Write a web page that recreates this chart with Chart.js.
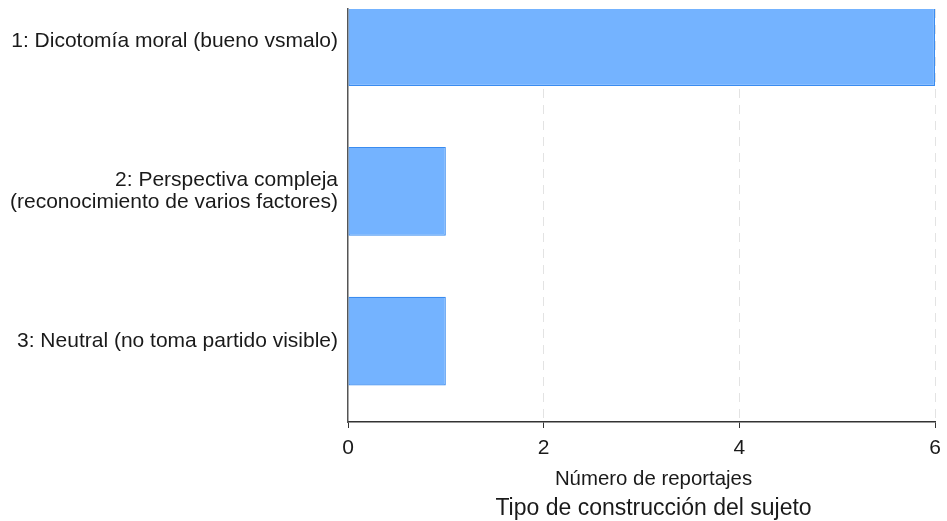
<!DOCTYPE html>
<html>
<head>
<meta charset="utf-8">
<script src="https://cdn.jsdelivr.net/npm/chart.js@4"></script>
<style>
  html, body { margin: 0; padding: 0; background: #fff; }
  #wrap { width: 947px; height: 521px; }
</style>
</head>
<body>
<div id="wrap"><canvas id="chart"></canvas></div>
<script>
// categories, top to bottom
const categories = [
    '1: Dicotomía moral (bueno vsmalo)',
    ['2: Perspectiva compleja', '(reconocimiento de varios factores)'],
    '3: Neutral (no toma partido visible)'
];
const reportCounts = [6, 1, 1];
const xTicks = [0, 2, 4, 6];
const xAxisTitle = 'Número de reportajes';
const chartTitle = 'Tipo de construcción del sujeto';

const FONT = '"Liberation Sans", Arial, sans-serif';

// draws axis title + chart title below the x axis
const bottomTitles = {
    id: 'bottomTitles',
    afterDraw(chart) {
        const ctx = chart.ctx;
        const area = chart.chartArea;
        const cx = (area.left + area.right) / 2 + 12;
        ctx.save();
        ctx.fillStyle = '#1a1a1a';
        ctx.textAlign = 'center';
        ctx.textBaseline = 'middle';
        ctx.font = '20.4px ' + FONT;
        ctx.fillText(xAxisTitle, cx, area.bottom + 57);
        ctx.font = '23px ' + FONT;
        ctx.fillText(chartTitle, cx, area.bottom + 87);
        ctx.restore();
    }
};

new Chart(document.getElementById('chart'), {
    type: 'bar',
    data: {
        datasets: [{
            data: reportCounts.map((v, i) => ({ x: v, y: i + 1 })),
            backgroundColor: '#74b3ff',
            borderColor: '#3a8cf0',
            borderWidth: 1.2,
            borderSkipped: false,
            barPercentage: 0.593,
            categoryPercentage: 1
        }]
    },
    options: {
        indexAxis: 'y',
        responsive: true,
        maintainAspectRatio: false,
        animation: false,
        layout: { padding: { top: 9, right: 12, bottom: 0, left: 0 } },
        plugins: {
            legend: { display: false },
            tooltip: { enabled: false },
            title: { display: false }
        },
        scales: {
            x: {
                type: 'linear',
                min: 0,
                max: 6,
                afterBuildTicks: (scale) => { scale.ticks = xTicks.map(v => ({ value: v })); },
                afterFit: (scale) => {
                    scale.height = 99;
                    scale.paddingLeft = 0;
                    scale.paddingRight = 0;
                },
                ticks: {
                    color: '#1a1a1a',
                    font: { family: FONT, size: 21 },
                    padding: 8,
                    maxRotation: 0
                },
                grid: {
                    color: (c) => c.tick && c.tick.value === 0 ? 'rgba(0,0,0,0)' : '#e3e3e3',
                    tickColor: '#333',
                    tickLength: 6,
                    lineWidth: 1
                },
                border: { display: true, color: '#333', width: 1.5, dash: [9, 7] }
            },
            y: {
                type: 'linear',
                reverse: true,
                offset: false,
                min: 0.783,
                max: 3.54,
                afterBuildTicks: (scale) => { scale.ticks = categories.map((c, i) => ({ value: i + 1 })); },
                afterFit: (scale) => {
                    scale.width = 348;
                    scale.paddingTop = 0;
                    scale.paddingBottom = 0;
                },
                ticks: {
                    color: '#1a1a1a',
                    font: { family: FONT, size: 21, lineHeight: 1.05 },
                    padding: 10,
                    callback: (v) => categories[v - 1]
                },
                grid: { display: false, drawTicks: false, offset: false },
                border: { display: true, color: '#555', width: 1.5 }
            }
        }
    },
    plugins: [bottomTitles]
});
</script>
</body>
</html>
